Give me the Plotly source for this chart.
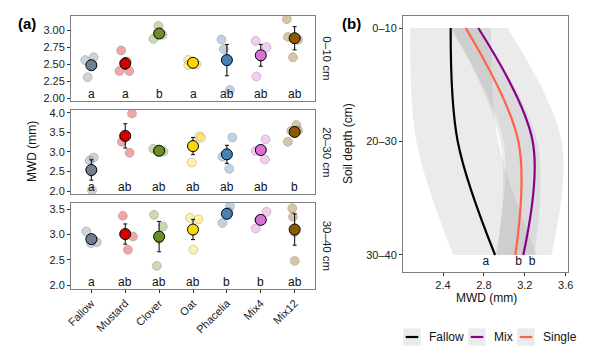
import plotly.graph_objects as go

# ---------------- data ----------------
treatments = ["Fallow", "Mustard", "Clover", "Oat", "Phacelia", "Mix4", "Mix12"]
depth_strips = ["0–10 cm", "20–30 cm", "30–40 cm"]
treat_colors = ["#708090", "#D40000", "#6B8E23", "#FFD700", "#4682B4", "#DA70D6", "#8B5A00"]

# means and error (half-widths) per depth facet
mean_0_10 = [2.485, 2.51, 2.95, 2.52, 2.56, 2.63, 2.88]
err_0_10 = [0.06, 0.08, 0.04, 0.04, 0.23, 0.16, 0.17]
mean_20_30 = [2.54, 3.41, 3.03, 3.15, 2.94, 3.05, 3.51]
err_20_30 = [0.26, 0.31, 0.04, 0.22, 0.23, 0.05, 0.08]
mean_30_40 = [2.91, 3.01, 2.96, 3.10, 3.41, 3.29, 3.10]
err_30_40 = [0.05, 0.20, 0.30, 0.20, 0.08, 0.06, 0.31]

# replicate values per treatment
reps_0_10 = [[2.56, 2.60, 2.31, 2.47], [2.70, 2.40, 2.40, 2.54], [3.06, 2.87, 2.93, 2.94],
             [2.56, 2.49, 2.53, 2.50], [2.86, 2.72, 2.12, 2.54], [2.84, 2.75, 2.32, 2.61],
             [3.16, 2.90, 2.60, 2.86]]
reps_20_30 = [[2.86, 2.78, 2.02, 2.50], [3.98, 3.26, 2.98, 3.42], [3.08, 3.01, 3.03, 3.02],
              [3.40, 3.36, 2.73, 3.11], [3.37, 2.88, 2.57, 2.94], [3.32, 3.03, 2.81, 3.04],
              [3.26, 3.54, 3.69, 3.55]]
reps_30_40 = [[3.06, 2.85, 2.83, 2.90], [3.37, 2.96, 2.70, 3.01], [3.39, 3.16, 2.38, 2.91],
              [3.33, 3.30, 2.70, 3.07], [3.56, 3.23, 3.45, 3.40], [3.45, 3.12, 3.30, 3.29],
              [3.52, 3.35, 2.48, 3.05]]
# horizontal jitter of replicates (category units)
jit_0_10 = [[-0.18, 0.07, -0.11, 0.02], [-0.12, -0.17, 0.12, 0.05], [-0.02, -0.17, 0.10, 0.0],
            [-0.14, -0.14, 0.0, 0.10], [-0.16, -0.09, 0.09, 0.0], [-0.15, 0.17, -0.13, 0.0],
            [-0.23, -0.20, -0.05, 0.10]]
jit_20_30 = [[0.07, -0.05, 0.02, 0.0], [0.20, -0.10, 0.13, 0.0], [-0.17, 0.13, 0.05, -0.05],
             [0.19, 0.24, -0.04, 0.0], [0.16, -0.13, 0.07, 0.0], [0.14, -0.15, 0.12, 0.0],
             [-0.20, -0.10, 0.05, 0.10]]
jit_30_40 = [[-0.15, 0.16, -0.01, 0.05], [-0.07, 0.23, 0.08, 0.0], [-0.15, 0.11, -0.07, 0.0],
             [-0.09, 0.16, 0.01, 0.0], [0.09, -0.13, 0.05, 0.0], [0.17, -0.15, 0.0, -0.05],
             [-0.07, -0.05, 0.0, 0.0]]

letters_0_10 = ["a", "a", "b", "a", "ab", "ab", "ab"]
letters_20_30 = ["a", "ab", "ab", "ab", "ab", "ab", "b"]
letters_30_40 = ["a", "ab", "ab", "ab", "b", "b", "ab"]

# panel (b)
depth_labels = ["0–10", "20–30", "30–40"]
groups = ["Fallow", "Mix", "Single"]
group_colors = ["#000000", "#8B008B", "#FF6347"]
fallow_mwd = [2.475, 2.544, 2.909]
mix_mwd = [2.745, 3.277, 3.185]
single_mwd = [2.622, 3.137, 3.107]
fallow_lo = [2.08, 2.14, 2.50]
fallow_hi = [2.87, 2.94, 3.32]
mix_lo = [2.47, 2.99, 2.91]
mix_hi = [3.03, 3.56, 3.46]
single_lo = [2.49, 2.96, 2.93]
single_hi = [2.75, 3.32, 3.29]
group_letters = ["a", "b", "b"]
group_letter_x = [2.82, 3.14, 3.27]

# ---------------- layout helpers ----------------
W, H = 600, 358
FONT = "Liberation Sans, Arial, sans-serif"


def fx(p):
    return p / W


def fy(p):
    return 1 - p / H


def rgba(hexc, a):
    h = hexc.lstrip("#")
    r, g, b = int(h[0:2], 16), int(h[2:4], 16), int(h[4:6], 16)
    return f"rgba({r},{g},{b},{a})"


def label(xp, yp, text, size=12, angle=0, xanchor="center", color="#111111"):
    return dict(x=fx(xp), y=fy(yp), xref="paper", yref="paper", text=text, showarrow=False,
                textangle=angle, xanchor=xanchor, yanchor="middle",
                font=dict(family=FONT, size=size, color=color))


fig = go.Figure()

facets = [
    dict(top=16, bot=100.7, rng=[1.965, 3.206], ticks=[2.0, 2.25, 2.5, 2.75, 3.0], fmt="%.2f",
         means=mean_0_10, errs=err_0_10, reps=reps_0_10, jit=jit_0_10, letters=letters_0_10),
    dict(top=110, bot=194.3, rng=[1.92, 4.07], ticks=[2.0, 2.5, 3.0, 3.5, 4.0], fmt="%.1f",
         means=mean_20_30, errs=err_20_30, reps=reps_20_30, jit=jit_20_30, letters=letters_20_30),
    dict(top=202.7, bot=288.7, rng=[1.93, 3.63], ticks=[2.0, 2.5, 3.0, 3.5], fmt="%.1f",
         means=mean_30_40, errs=err_30_40, reps=reps_30_40, jit=jit_30_40, letters=letters_30_40),
]

annotations = []
axis_line = dict(showline=True, mirror=True, linecolor="#7f7f7f", linewidth=1,
                 showgrid=False, zeroline=False, automargin=False)
tickfont = dict(family=FONT, size=11, color="#222222")

for k, f in enumerate(facets):
    sfx = "" if k == 0 else str(k + 1)
    xa, ya = "x" + sfx, "y" + sfx
    # replicates
    rx, ry, rc = [], [], []
    for i in range(len(treatments)):
        for v, j in zip(f["reps"][i], f["jit"][i]):
            rx.append(i + j)
            ry.append(v)
            rc.append(rgba(treat_colors[i], 0.35))
    fig.add_trace(go.Scatter(x=rx, y=ry, mode="markers", xaxis=xa, yaxis=ya, showlegend=False,
                             marker=dict(size=9, color=rc,
                                         line=dict(color="rgba(120,120,120,0.35)", width=1)),
                             hoverinfo="skip"))
    # means with error bars
    fig.add_trace(go.Scatter(x=list(range(len(treatments))), y=f["means"], mode="markers",
                             xaxis=xa, yaxis=ya, showlegend=False,
                             error_y=dict(type="data", array=f["errs"], color="black",
                                          thickness=1, width=2),
                             marker=dict(size=11, color=treat_colors,
                                         line=dict(color="black", width=1))))
    # letters
    for i, t in enumerate(f["letters"]):
        annotations.append(dict(x=i, y=f["rng"][0], xref=xa, yref=ya, text=t, showarrow=False,
                                xanchor="center", yanchor="bottom", yshift=-2,
                                font=dict(family=FONT, size=12, color="#111111")))
    # strip label
    annotations.append(label(327, (f["top"] + f["bot"]) / 2, depth_strips[k], size=11.5,
                             angle=90, color="#1a1a1a"))
    xkey = "xaxis" + sfx
    ykey = "yaxis" + sfx
    xlay = dict(axis_line, domain=[fx(71), fx(315)], range=[-0.6, 6.6], anchor=ya,
                tickvals=list(range(len(treatments))), ticktext=treatments)
    if k == 2:
        xlay.update(ticks="outside", ticklen=3, tickcolor="#333333", tickangle=-45,
                    tickfont=tickfont)
    else:
        xlay.update(ticks="", showticklabels=False)
    fig.layout[xkey] = xlay
    fig.layout[ykey] = dict(axis_line, domain=[fy(f["bot"]), fy(f["top"])], range=f["rng"],
                            anchor=xa, tickvals=f["ticks"],
                            ticktext=[f["fmt"] % v for v in f["ticks"]],
                            ticks="outside", ticklen=3, tickcolor="#333333", tickfont=tickfont)

# ---------------- panel (b) ----------------
depth_pos = [0, 1, 2]
band_fill = "rgba(153,153,153,0.2)"
for lo, hi in [(fallow_lo, fallow_hi), (mix_lo, mix_hi), (single_lo, single_hi)]:
    fig.add_trace(go.Scatter(x=lo, y=depth_pos, mode="lines", xaxis="x4", yaxis="y4",
                             line=dict(width=0, shape="spline"), showlegend=False,
                             hoverinfo="skip"))
    fig.add_trace(go.Scatter(x=hi, y=depth_pos, mode="lines", xaxis="x4", yaxis="y4",
                             line=dict(width=0, shape="spline"), fill="tonextx",
                             fillcolor=band_fill, showlegend=False, hoverinfo="skip"))

for vals, name, col in zip([fallow_mwd, mix_mwd, single_mwd], groups, group_colors):
    fig.add_trace(go.Scatter(x=vals, y=depth_pos, mode="lines", xaxis="x4", yaxis="y4", name=name,
                             line=dict(color=col, width=2.2, shape="spline"), showlegend=False))

fig.add_trace(go.Scatter(x=group_letter_x, y=[2.06] * 3, mode="text", text=group_letters,
                         xaxis="x4", yaxis="y4", showlegend=False,
                         textfont=dict(family=FONT, size=12, color="#111111")))

fig.layout["xaxis4"] = dict(axis_line, domain=[fx(403), fx(568)], range=[2.009, 3.622], anchor="y4",
                            tickvals=[2.4, 2.8, 3.2, 3.6], ticktext=["2.4", "2.8", "3.2", "3.6"],
                            ticks="outside", ticklen=3, tickcolor="#333333", tickfont=tickfont)
fig.layout["yaxis4"] = dict(axis_line, domain=[fy(272), fy(16)], range=[2.15, -0.106], anchor="x4",
                            tickvals=depth_pos, ticktext=depth_labels,
                            ticks="outside", ticklen=3, tickcolor="#333333", tickfont=tickfont)

# titles & panel tags
annotations += [
    label(32, 152, "MWD (mm)", angle=-90),
    label(486, 298, "MWD (mm)"),
    label(348, 144, "Soil depth (cm)", angle=-90),
    label(16, 23, "<b>(a)</b>", size=15, xanchor="left", color="#000000"),
    label(340, 23, "<b>(b)</b>", size=15, xanchor="left", color="#000000"),
]

# manual legend (ggplot style keys)
shapes = []
key_x = [403.3, 468.3, 517.3]
for kx, name, col in zip(key_x, groups, group_colors):
    shapes.append(dict(type="rect", xref="paper", yref="paper", x0=fx(kx), x1=fx(kx + 17.4),
                       y0=fy(345.7), y1=fy(328.3), fillcolor="#EBEBEB", line=dict(width=0)))
    shapes.append(dict(type="line", xref="paper", yref="paper", x0=fx(kx + 2.4), x1=fx(kx + 15),
                       y0=fy(337), y1=fy(337), line=dict(color=col, width=2.2)))
    annotations.append(label(kx + 23.5, 337, name, xanchor="left"))

fig.update_layout(width=W, height=H, margin=dict(l=0, r=0, t=0, b=0),
                  paper_bgcolor="white", plot_bgcolor="white", showlegend=False,
                  annotations=annotations, shapes=shapes, font=dict(family=FONT))

fig.write_html("out.html", config={"displayModeBar": False},
               post_script="document.body.style.margin='0';document.body.style.padding='0';"
                           "document.body.style.overflow='hidden';")
